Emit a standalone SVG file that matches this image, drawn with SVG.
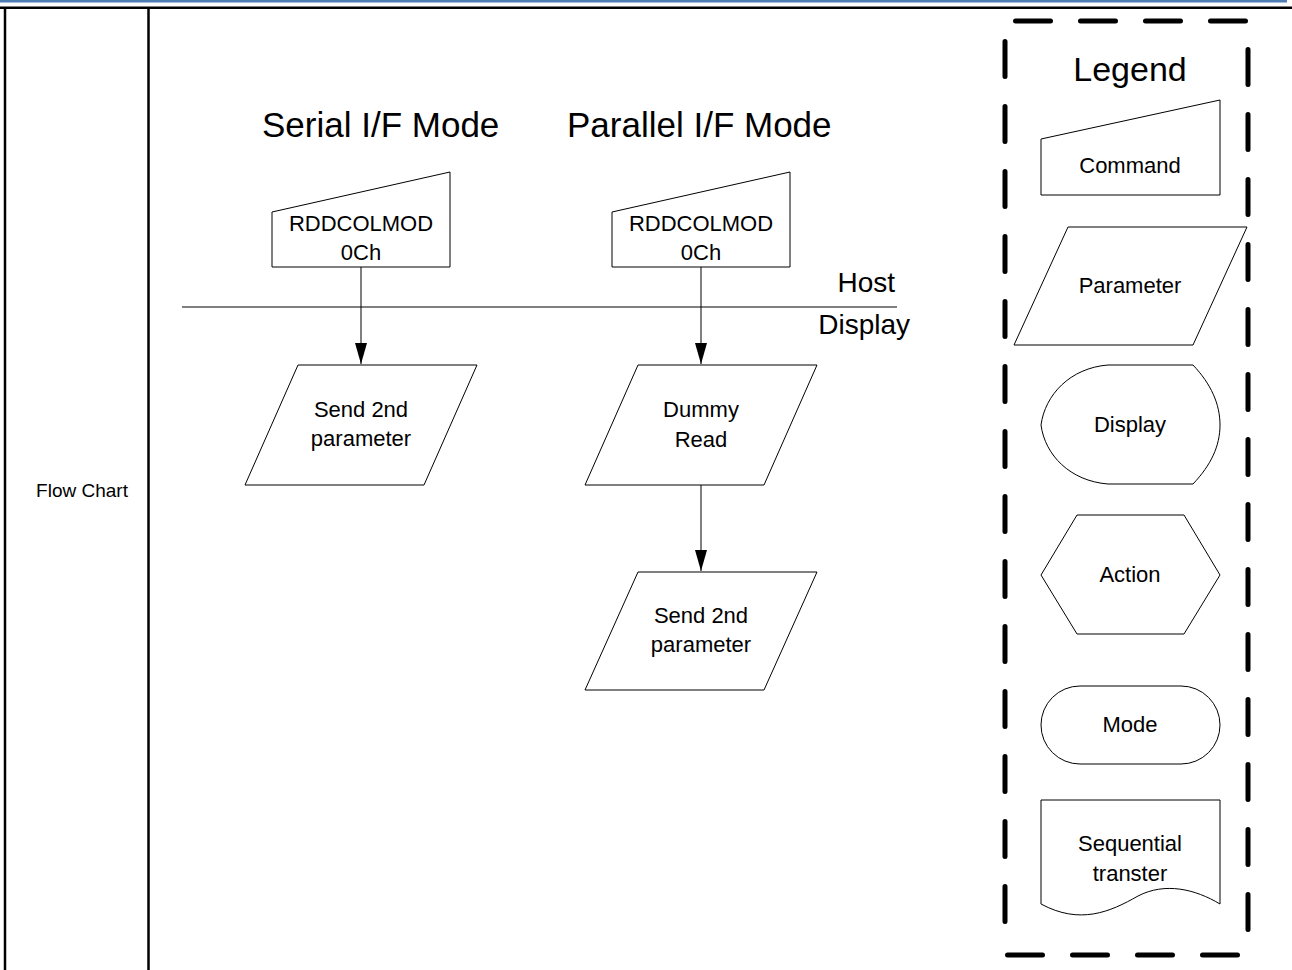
<svg xmlns="http://www.w3.org/2000/svg" width="1292" height="970" viewBox="0 0 1292 970">
<style>
  text { font-family: "Liberation Sans", Arial, sans-serif; fill: #000; }
  .lbl { font-size: 22px; text-anchor: middle; }
  .title { font-size: 35px; }
  .shape { fill: #fff; stroke: #000; stroke-width: 1; }
  .frame { stroke: #000; stroke-width: 2.5; fill: none; }
  .conn { stroke: #000; stroke-width: 1; fill: none; }
  .dash { stroke: #000; stroke-width: 5; stroke-linecap: round; stroke-dasharray: 35 30; fill: none; }
</style>
<defs>
  <marker id="arrow" markerWidth="22" markerHeight="12" refX="21" refY="6" orient="auto" markerUnits="userSpaceOnUse" viewBox="0 0 22 12">
    <path d="M0,0 L21,6 L0,12 Z" fill="#000"/>
  </marker>
</defs>
<rect width="1292" height="970" fill="#fff"/>
<!-- page header and table frame -->
<g id="frame">
  <line x1="0" y1="1.3" x2="1287" y2="1.3" stroke="#4f7fb5" stroke-width="2.6"/>
  <line x1="0" y1="7.8" x2="1292" y2="7.8" class="frame"/>
  <line x1="5" y1="7" x2="5" y2="970" class="frame"/>
  <line x1="148.5" y1="7" x2="148.5" y2="970" class="frame"/>
  <text x="82" y="497" font-size="19" text-anchor="middle">Flow Chart</text>
</g>
<!-- titles -->
<g id="titles">
  <text class="title" x="262" y="137">Serial I/F Mode</text>
  <text class="title" x="567" y="137">Parallel I/F Mode</text>
</g>
<!-- host/display separator -->
<g id="separator">
  <line x1="182" y1="307" x2="897" y2="307" class="conn"/>
  <text x="895" y="292" font-size="28" text-anchor="end">Host</text>
  <text x="910" y="334" font-size="28" text-anchor="end">Display</text>
</g>
<!-- connectors -->
<g id="connectors">
  <line x1="361" y1="267" x2="361" y2="364" class="conn" marker-end="url(#arrow)"/>
  <line x1="701" y1="267" x2="701" y2="364" class="conn" marker-end="url(#arrow)"/>
  <line x1="701" y1="485" x2="701" y2="571" class="conn" marker-end="url(#arrow)"/>
</g>
<!-- serial flow -->
<g id="serial-command">
  <polygon class="shape" points="272,212 450,172 450,267 272,267"/>
  <text class="lbl" x="361" y="231">RDDCOLMOD</text>
  <text class="lbl" x="361" y="260">0Ch</text>
</g>
<g id="serial-param">
  <polygon class="shape" points="298,365 477,365 424,485 245,485"/>
  <text class="lbl" x="361" y="417">Send 2nd</text>
  <text class="lbl" x="361" y="446">parameter</text>
</g>
<!-- parallel flow -->
<g id="parallel-command">
  <polygon class="shape" points="612,212 790,172 790,267 612,267"/>
  <text class="lbl" x="701" y="231">RDDCOLMOD</text>
  <text class="lbl" x="701" y="260">0Ch</text>
</g>
<g id="parallel-dummy">
  <polygon class="shape" points="638,365 817,365 764,485 585,485"/>
  <text class="lbl" x="701" y="417">Dummy</text>
  <text class="lbl" x="701" y="447">Read</text>
</g>
<g id="parallel-param">
  <polygon class="shape" points="638,572 817,572 764,690 585,690"/>
  <text class="lbl" x="701" y="623">Send 2nd</text>
  <text class="lbl" x="701" y="652">parameter</text>
</g>
<!-- legend -->
<g id="legend">
  <line class="dash" x1="1015.5" y1="21" x2="1250" y2="21"/>
  <line class="dash" x1="1007.5" y1="955" x2="1245" y2="955"/>
  <line class="dash" x1="1005" y1="41.5" x2="1005" y2="945"/>
  <line class="dash" x1="1248" y1="49.5" x2="1248" y2="945"/>
  <text x="1130" y="81" font-size="34" text-anchor="middle">Legend</text>
</g>
<g id="legend-command">
  <polygon class="shape" points="1041,139 1220,100 1220,195 1041,195"/>
  <text class="lbl" x="1130" y="173">Command</text>
</g>
<g id="legend-parameter">
  <polygon class="shape" points="1068,227 1247,227 1193,345 1014,345"/>
  <text class="lbl" x="1130" y="293">Parameter</text>
</g>
<g id="legend-display">
  <path class="shape" d="M1108,365 L1193,365 C1211,384 1220,404 1220,425 C1220,446 1211,465 1193,484 L1108,484 C1070,481 1045,455 1041,425 C1045,395 1070,368 1108,365 Z"/>
  <text class="lbl" x="1130" y="432">Display</text>
</g>
<g id="legend-action">
  <polygon class="shape" points="1077,515 1184,515 1220,575 1184,634 1077,634 1041,575"/>
  <text class="lbl" x="1130" y="582">Action</text>
</g>
<g id="legend-mode">
  <rect class="shape" x="1041" y="686" width="179" height="78" rx="39" ry="39"/>
  <text class="lbl" x="1130" y="732">Mode</text>
</g>
<g id="legend-sequential">
  <path class="shape" d="M1041,800 L1220,800 L1220,904 C1195,889 1165,882 1138,896 C1110,912 1080,925 1041,904 Z"/>
  <text class="lbl" x="1130" y="851">Sequential</text>
  <text class="lbl" x="1130" y="881">transter</text>
</g>
</svg>
